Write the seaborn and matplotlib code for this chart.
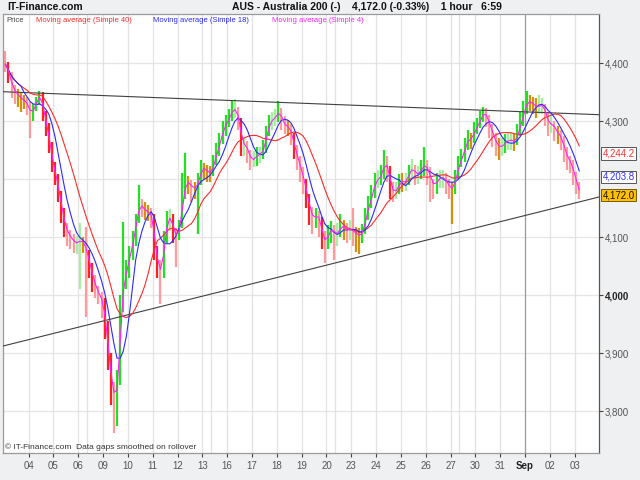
import numpy as np
import pandas as pd
import matplotlib
matplotlib.use("Agg")
import matplotlib.pyplot as plt
import seaborn as sns

# sessions shown on the x axis (one tick per trading day)
day_labels = ["04", "05", "06", "09", "10", "11", "12", "13", "16", "17", "18", "19",
              "20", "23", "24", "25", "26", "27", "30", "31", "Sep", "02", "03"]
bars_per_day = 8      # 3-hour bars
lead_bars = 8         # bars of the session before "04"

first_open = 4415
closes = [
    4398, 4377, 4358, 4349, 4343, 4338, 4334, 4327,
    4310, 4325, 4335, 4347, 4314, 4292, 4260, 4225,
    4203, 4177, 4142, 4118, 4105, 4098, 4090, 4090,
    4095, 4090, 4072, 4050, 4027, 4011, 4000, 3988,
    3950, 3895, 3842, 3822, 3850, 3985, 4025, 4048,
    4075, 4095, 4132, 4157, 4150, 4145, 4142, 4135,
    4078, 4050, 4039, 4098, 4130, 4135, 4108, 4100,
    4120, 4172, 4196, 4192, 4185, 4184, 4196, 4220,
    4217, 4212, 4210, 4230, 4247, 4267, 4287, 4296,
    4308, 4320, 4320, 4300, 4260, 4261, 4245, 4232,
    4235, 4242, 4243, 4252, 4280, 4298, 4303, 4309,
    4317, 4300, 4291, 4290, 4276, 4252, 4234, 4215,
    4195, 4170, 4145, 4130, 4139, 4130, 4100, 4091,
    4108, 4115, 4104, 4108, 4120, 4117, 4110, 4116,
    4107, 4106, 4101, 4110, 4138, 4156, 4175, 4197,
    4200, 4208, 4230, 4218, 4185, 4177, 4183, 4196,
    4194, 4197, 4213, 4219, 4208, 4209, 4219, 4226,
    4214, 4197, 4187, 4199, 4202, 4203, 4194, 4185,
    4183, 4205, 4227, 4238, 4257, 4270, 4268, 4285,
    4292, 4305, 4317, 4305, 4290, 4274, 4260, 4255,
    4257, 4264, 4267, 4267, 4263, 4281, 4298, 4320,
    4334, 4333, 4328, 4324, 4327, 4327, 4310, 4292,
    4297, 4284, 4278, 4269, 4249, 4235, 4228, 4208,
    4190, 4172,
]
highs = [
    4420, 4402, 4385, 4362, 4356, 4350, 4345, 4342,
    4332, 4330, 4342, 4352, 4350, 4318, 4296, 4264,
    4230, 4208, 4180, 4150, 4125, 4112, 4105, 4102,
    4124, 4100, 4117, 4078, 4055, 4035, 4015, 4005,
    3995, 3955, 3900, 3850, 3870, 4000, 4126, 4060,
    4085, 4110, 4140, 4190, 4165, 4160, 4155, 4150,
    4140, 4085, 4060, 4110, 4145, 4148, 4140, 4115,
    4130, 4210, 4245, 4205, 4198, 4195, 4210, 4232,
    4228, 4225, 4222, 4242, 4262, 4280, 4300, 4310,
    4320, 4335, 4338, 4325, 4305, 4272, 4265, 4250,
    4248, 4255, 4255, 4268, 4292, 4310, 4315, 4320,
    4334, 4322, 4308, 4302, 4295, 4280, 4258, 4240,
    4220, 4200, 4175, 4152, 4150, 4145, 4135, 4110,
    4120, 4128, 4120, 4125, 4140, 4130, 4125, 4130,
    4150, 4118, 4115, 4122, 4150, 4170, 4190, 4210,
    4215, 4225, 4250, 4240, 4222, 4195, 4195, 4208,
    4210, 4210, 4225, 4235, 4225, 4222, 4232, 4255,
    4232, 4220, 4200, 4210, 4215, 4215, 4210, 4200,
    4195, 4215, 4240, 4252, 4270, 4285, 4280, 4298,
    4305, 4318, 4325, 4322, 4310, 4295, 4280, 4270,
    4270, 4278, 4280, 4280, 4278, 4295, 4315, 4335,
    4352, 4345, 4342, 4340, 4345, 4340, 4330, 4315,
    4310, 4300, 4292, 4285, 4275, 4255, 4240, 4232,
    4212, 4195,
]
lows = [
    4385, 4365, 4340, 4330, 4325, 4315, 4320, 4310,
    4270, 4300, 4318, 4328, 4300, 4275, 4245, 4212,
    4190, 4160, 4125, 4100, 4085, 4080, 4072, 4070,
    4010, 4072, 3962, 4030, 4005, 3995, 3985, 3960,
    3925, 3870, 3810, 3762, 3775, 3845, 3970, 4010,
    4030, 4060, 4085, 4125, 4135, 4130, 4128, 4115,
    4060, 4030, 3985, 4030, 4090, 4110, 4090, 4048,
    4095, 4115, 4165, 4175, 4160, 4165, 4105, 4190,
    4200, 4195, 4195, 4205, 4225, 4240, 4260, 4275,
    4290, 4300, 4305, 4285, 4240, 4240, 4228, 4215,
    4220, 4222, 4228, 4235, 4245, 4275, 4285, 4292,
    4298, 4285, 4278, 4275, 4258, 4235, 4215, 4195,
    4175, 4150, 4120, 4105, 4115, 4100, 4080, 4055,
    4080, 4090, 4060, 4085, 4100, 4095, 4090, 4095,
    4085, 4075, 4070, 4090, 4105, 4130, 4150, 4168,
    4185, 4190, 4200, 4195, 4165, 4160, 4165, 4175,
    4178, 4180, 4190, 4200, 4190, 4192, 4200, 4205,
    4190, 4160, 4165, 4175, 4185, 4185, 4175, 4165,
    4122, 4175, 4200, 4220, 4230, 4250, 4252, 4262,
    4278, 4288, 4298, 4290, 4270, 4255, 4240, 4232,
    4240, 4245, 4250, 4250, 4248, 4258, 4275, 4292,
    4312, 4318, 4312, 4305, 4312, 4312, 4292, 4275,
    4280, 4265, 4260, 4250, 4230, 4215, 4210, 4190,
    4175, 4165,
]

# moving averages: hourly periods 40 / 18 / 4 expressed in 3-hour bars
ma_periods = [40, 18, 4]
ma_windows = [13, 6, 2]
ma_colors = ["#ff2a2a", "#2a2aff", "#ff22ff"]
ma_last_labels = [4244.2, 4203.8]

# trend lines (value at left and right edge of the plot)
upper_trend = [4350.5, 4310.9]
lower_trend = [3912.0, 4169.0]

y_ticks = [3800, 3900, 4000, 4100, 4300, 4400]
y_grid = [3800, 3900, 4000, 4100, 4200, 4300, 4400]

sns.set_theme(style="white")
plt.rcParams["font.family"] = ["Liberation Sans", "DejaVu Sans"]

n = len(closes)
bar = np.arange(n)
opens = [first_open] + closes[:-1]
df = pd.DataFrame({"bar": bar, "open": opens, "close": closes, "high": highs, "low": lows})
for p, w in zip(ma_periods, ma_windows):
    df[f"Simple {p}"] = df["close"].rolling(w, min_periods=1).mean()

fig = plt.figure(figsize=(6.4, 4.8), dpi=100, facecolor="#eff0f2")
ax = fig.add_axes([3 / 640, 27 / 480, 596 / 640, 439 / 480])
ax.set_facecolor("white")
x0, x1 = -0.75, 191.35
ax.set_xlim(x0, x1)
ax.set_ylim(3727.6, 4484.5)

# grid
day_pos = [lead_bars + bars_per_day * k - 0.5 for k in range(len(day_labels))]
for y in y_grid:
    ax.axhline(y, color="#e6e6e6", lw=0.9, zorder=0)
for lab, xp in zip(day_labels, day_pos):
    ax.axvline(xp, color="#999999" if lab == "Sep" else "#e3e3e3", lw=0.9, zorder=0)
# end of week lines (before weekend gaps)
for k in range(len(day_labels) - 1):
    a, b = day_labels[k], day_labels[k + 1]
    if a.isdigit() and b.isdigit() and int(b) - int(a) > 1:
        ax.axvline(day_pos[k] + 2.8, color="#e3e3e3", lw=0.9, zorder=0)

# price bars
chg = df["close"] - df["open"]
cols = np.where(chg > 6, "#22e022",
       np.where(chg >= 0, "#a6eea0",
       np.where(chg >= -6, "#d8900c",
       np.where(chg >= -20, "#ff9a9a", "#ff2020"))))
ax.vlines(df["bar"], df["low"], df["high"], colors=cols, lw=1.6, zorder=2)

# trend lines
ax.plot([x0, x1], upper_trend, color="#404040", lw=0.8, zorder=3)
ax.plot([x0, x1], lower_trend, color="#404040", lw=0.8, zorder=3)

# moving averages
long = df.melt(id_vars="bar", value_vars=[f"Simple {p}" for p in ma_periods],
               var_name="series", value_name="value")
sns.lineplot(data=long, x="bar", y="value", hue="series",
             palette=dict(zip([f"Simple {p}" for p in ma_periods], ma_colors)),
             legend=False, lw=0.8, ax=ax, zorder=4)
ax.set_xlabel("")
ax.set_ylabel("")

# axes styling
for s in ["left", "top", "bottom"]:
    ax.spines[s].set_color("#9a9a9a")
    ax.spines[s].set_linewidth(0.9)
ax.spines["right"].set_color("#555555")
ax.spines["right"].set_linewidth(0.9)

ax.set_xticks(day_pos)
ax.set_xticklabels(day_labels)
ax.yaxis.tick_right()
ax.set_yticks(y_ticks)
ax.set_yticklabels([f"{v:,.0f}" for v in y_ticks])
ax.tick_params(axis="x", direction="out", length=3, width=0.8, color="#444444",
               labelsize=7, labelcolor="#555555", pad=3, bottom=True)
ax.tick_params(axis="y", direction="out", length=3, width=0.8, color="#444444",
               labelsize=7, labelcolor="#555555", pad=1, right=True, left=False)
for t in ax.get_xticklabels():
    if t.get_text() == "Sep":
        t.set_fontweight("bold")
        t.set_color("#222222")
for t in ax.get_yticklabels():
    if t.get_text() == "4,000":
        t.set_fontweight("bold")
        t.set_color("#222222")

# last value boxes
yt = ax.get_yaxis_transform()
ax.text(1.006, ma_last_labels[0], f"{ma_last_labels[0]:,.1f}", transform=yt, fontsize=7,
        color="#ff3030", va="center", ha="left",
        bbox=dict(boxstyle="square,pad=0.12", fc="white", ec="#555555", lw=0.7))
ax.text(1.006, ma_last_labels[1], f"{ma_last_labels[1]:,.1f}", transform=yt, fontsize=7,
        color="#3030ff", va="center", ha="left",
        bbox=dict(boxstyle="square,pad=0.12", fc="white", ec="#555555", lw=0.7))
ax.text(1.006, closes[-1], f"{closes[-1]:,.1f}", transform=yt, fontsize=7,
        color="#111111", va="center", ha="left",
        bbox=dict(boxstyle="square,pad=0.12", fc="#ffc000", ec="#7a5a00", lw=0.7))

# legend row inside the plot
ax.text(0.005, 0.986, "Price", transform=ax.transAxes, fontsize=5.5, color="#444444", va="center")
for p, c, xf in zip(ma_periods, ma_colors, [0.0554, 0.2517, 0.4513]):
    ax.text(xf, 0.986, f"Moving average (Simple {p})", transform=ax.transAxes,
            fontsize=5.5, color=c, va="center")

ax.text(0.003, 0.004, "\u00a9 IT-Finance.com  Data gaps smoothed on rollover",
        transform=ax.transAxes, fontsize=6, color="#333333", va="bottom")

# header
fig.text(7 / 640, 1 - 7 / 480, "IT-Finance.com", fontsize=7.5, fontweight="bold",
         color="#111111", va="center", ha="left")
fig.text(232 / 640, 1 - 7 / 480,
         "AUS - Australia 200 (-)    4,172.0 (-0.33%)    1 hour   6:59",
         fontsize=7.5, fontweight="bold", color="#111111", va="center", ha="left")

fig.savefig("out.png", dpi=100, facecolor=fig.get_facecolor())
